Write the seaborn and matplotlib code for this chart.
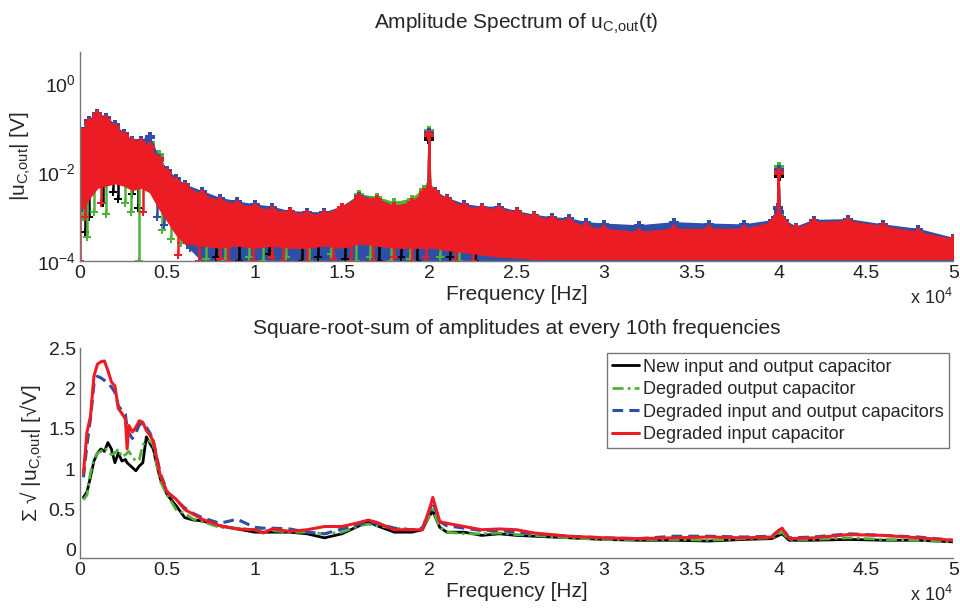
import numpy as np
import pandas as pd
import matplotlib
matplotlib.use("Agg")
import matplotlib.pyplot as plt
import seaborn as sns

# ---- data (frequency in units of 1e4 Hz) ----
labels = ["New input and output capacitor",
          "Degraded output capacitor",
          "Degraded input and output capacitors",
          "Degraded input capacitor"]
colors = ["#000000", "#4fb33a", "#2f4fa6", "#ec1c24"]

# top panel: log10 of upper / lower envelope of the amplitude spectrum
spec_f = [0, 0.02, 0.05, 0.1, 0.15, 0.2, 0.25, 0.3, 0.35, 0.4,
          0.45, 0.5, 0.55, 0.6, 0.7, 0.8, 0.9, 1.0, 1.1, 1.2,
          1.3, 1.4, 1.5, 1.6, 1.7, 1.8, 1.9, 1.97, 1.995, 2.0,
          2.005, 2.03, 2.1, 2.2, 2.3, 2.4, 2.5, 2.6, 2.7, 2.8,
          2.9, 3.0, 3.2, 3.4, 3.6, 3.8, 3.97, 3.995, 4.0, 4.005,
          4.03, 4.1, 4.2, 4.4, 4.6, 4.8, 5.0]

upper_black = [-1.6, -1.35, -1.1, -0.9, -1.0, -1.15, -1.35, -1.5, -1.5, -1.5,
               -1.85, -2.15, -2.35, -2.5, -2.65, -2.8, -2.88, -2.95, -3.0, -3.05,
               -3.1, -3.1, -2.95, -2.72, -2.75, -2.9, -2.85, -2.6, -2.55, -1.25,
               -2.55, -2.6, -2.75, -2.9, -2.95, -3.0, -3.05, -3.15, -3.2, -3.25,
               -3.35, -3.4, -3.45, -3.4, -3.4, -3.4, -3.3, -3.15, -2.1, -3.15,
               -3.3, -3.4, -3.3, -3.25, -3.35, -3.45, -3.6]
upper_green = [-1.5, -1.2, -0.95, -0.78, -0.88, -1.05, -1.25, -1.38, -1.4, -1.35,
               -1.62, -2.05, -2.2, -2.36, -2.55, -2.7, -2.78, -2.85, -2.92, -2.95,
               -3.0, -3.0, -2.85, -2.52, -2.58, -2.7, -2.62, -2.4, -2.35, -1.08,
               -2.45, -2.5, -2.68, -2.82, -2.88, -2.9, -2.97, -3.06, -3.12, -3.15,
               -3.28, -3.3, -3.4, -3.28, -3.35, -3.35, -3.2, -3.05, -1.88, -2.95,
               -3.1, -3.25, -3.2, -3.18, -3.3, -3.42, -3.58]
upper_blue = [-1.35, -1.1, -0.85, -0.7, -0.78, -0.95, -1.15, -1.3, -1.3, -1.22,
              -1.7, -1.98, -2.15, -2.3, -2.45, -2.6, -2.68, -2.75, -2.8, -2.9,
              -2.92, -2.93, -2.8, -2.55, -2.62, -2.78, -2.72, -2.48, -2.4, -1.12,
              -2.4, -2.45, -2.6, -2.74, -2.8, -2.8, -2.9, -2.98, -3.04, -3.06,
              -3.15, -3.18, -3.22, -3.15, -3.18, -3.2, -3.1, -2.8, -1.95, -2.9,
              -3.1, -3.25, -3.1, -3.08, -3.2, -3.3, -3.5]
upper_red = [-1.3, -1.12, -0.9, -0.72, -0.83, -1.0, -1.2, -1.33, -1.35, -1.44,
             -1.73, -2.02, -2.22, -2.34, -2.52, -2.67, -2.74, -2.81, -2.88, -2.92,
             -2.97, -2.97, -2.81, -2.58, -2.63, -2.79, -2.7, -2.47, -2.4, -1.17,
             -2.4, -2.47, -2.63, -2.79, -2.84, -2.85, -2.92, -3.02, -3.08, -3.12,
             -3.24, -3.3, -3.37, -3.3, -3.3, -3.3, -3.15, -3.0, -2.02, -3.0,
             -3.15, -3.28, -3.15, -3.12, -3.24, -3.37, -3.53]

lower_red = [-2.8, -2.8, -2.6, -2.35, -2.3, -2.25, -2.3, -2.4, -2.35, -2.45,
             -2.8, -3.1, -3.4, -3.6, -3.65, -3.7, -3.65, -3.7, -3.65, -3.7,
             -3.7, -3.65, -3.7, -3.6, -3.65, -3.7, -3.7, -3.7, -3.7, -3.7,
             -3.7, -3.7, -3.75, -3.8, -3.85, -3.9, -3.92, -3.95, -3.95, -3.95,
             -3.95, -3.95, -3.95, -3.95, -3.95, -3.95, -3.95, -3.95, -3.95, -3.95,
             -3.95, -3.95, -3.95, -3.95, -3.95, -3.95, -3.95]
lower_blue = [-2.75, -2.75, -2.55, -2.3, -2.25, -2.2, -2.25, -2.35, -2.3, -2.4,
              -2.75, -3.05, -3.35, -3.6, -4.0, -4.0, -4.0, -4.0, -4.0, -4.0,
              -4.0, -4.0, -4.0, -4.0, -4.0, -4.0, -4.0, -4.0, -4.0, -4.0,
              -4.0, -4.0, -4.0, -4.0, -4.0, -4.0, -4.0, -4.0, -4.0, -4.0,
              -4.0, -4.0, -4.0, -4.0, -4.0, -4.0, -4.0, -4.0, -4.0, -4.0,
              -4.0, -4.0, -4.0, -4.0, -4.0, -4.0, -4.0]
# lower edge of black and green spectra lies under the red one
lower_other = [-2.75, -2.75, -2.55, -2.3, -2.25, -2.2, -2.25, -2.35, -2.3, -2.4,
               -2.75, -3.05, -3.35, -3.55, -3.6, -3.65, -3.6, -3.65, -3.6, -3.65,
               -3.65, -3.6, -3.65, -3.55, -3.6, -3.65, -3.65, -3.65, -3.65, -3.65,
               -3.65, -3.65, -3.7, -3.75, -3.8, -3.85, -3.87, -3.9, -3.9, -3.9,
               -3.9, -3.9, -3.9, -3.9, -3.9, -3.9, -3.9, -3.9, -3.9, -3.9,
               -3.9, -3.9, -3.9, -3.9, -3.9, -3.9, -3.9]

# single deep dips of the spectrum (frequency, log10 amplitude)
dip_f_black = [0.03, 0.05, 0.13, 0.19, 0.22, 0.3, 0.33, 0.62, 0.64, 0.78,
               0.91, 1.08, 1.27, 1.36, 1.52, 1.71, 1.84, 1.93, 1.99, 2.12, 2.26]
dip_v_black = [-3.35, -3.0, -2.7, -2.45, -2.6, -2.5, -2.8, -3.3, -3.5, -3.9,
               -4.0, -3.85, -4.0, -3.9, -3.95, -4.0, -3.9, -4.0, -3.5, -3.9, -4.0]
dip_f_green = [0.02, 0.04, 0.08, 0.15, 0.26, 0.29, 0.34, 0.47, 0.52, 0.58,
               0.72, 0.83, 0.97, 1.05, 1.18, 1.31, 1.44, 1.58, 1.66, 1.78,
               1.89, 2.06, 2.17]
dip_v_green = [-3.0, -3.45, -2.9, -2.95, -2.7, -2.9, -4.0, -3.3, -3.5, -3.6,
               -3.95, -4.0, -3.9, -4.0, -3.9, -4.0, -3.85, -4.0, -3.9, -4.0,
               -3.95, -3.9, -4.0]
dip_f_blue = [0.01, 0.44, 0.48, 0.61, 0.63]
dip_v_blue = [-2.8, -3.0, -3.2, -3.6, -3.7]
dip_f_red = [0.0, 0.03, 0.12, 0.36, 0.56, 0.68, 0.8, 0.85, 0.99, 1.1,
             1.16, 1.3, 1.45, 1.55, 1.68, 1.8, 1.9, 1.98, 2.15, 2.25]
dip_v_red = [-4.0, -3.0, -2.7, -2.9, -3.87, -4.0, -3.95, -4.0, -4.0, -3.9,
             -4.0, -4.0, -3.95, -4.0, -4.0, -3.9, -4.0, -3.9, -4.0, -4.0]

# bottom panel: square-root-sum of amplitudes
sum_f = [0.02, 0.04, 0.06, 0.08, 0.1, 0.12, 0.14, 0.16, 0.18, 0.2,
         0.22, 0.24, 0.26, 0.27, 0.28, 0.3, 0.32, 0.34, 0.36, 0.38,
         0.4, 0.42, 0.44, 0.46, 0.5, 0.55, 0.6, 0.65, 0.7, 0.8,
         0.9, 1.0, 1.05, 1.1, 1.2, 1.3, 1.4, 1.5, 1.6, 1.65,
         1.7, 1.8, 1.9, 1.96, 2.0, 2.02, 2.06, 2.1, 2.2, 2.3,
         2.4, 2.5, 2.6, 2.8, 3.0, 3.2, 3.4, 3.6, 3.8, 3.96,
         4.0, 4.02, 4.06, 4.2, 4.4, 4.6, 4.8, 5.0]
sum_black = [0.65, 0.72, 0.90, 1.10, 1.20, 1.25, 1.22, 1.33, 1.25, 1.08,
             1.20, 1.10, 1.12, 1.08, 1.06, 1.02, 0.98, 1.04, 1.08, 1.40,
             1.32, 1.25, 1.05, 0.88, 0.68, 0.55, 0.40, 0.37, 0.36, 0.30,
             0.26, 0.22, 0.22, 0.22, 0.22, 0.20, 0.15, 0.20, 0.30, 0.35,
             0.30, 0.22, 0.22, 0.25, 0.42, 0.48, 0.28, 0.22, 0.22, 0.18,
             0.20, 0.18, 0.17, 0.15, 0.13, 0.12, 0.12, 0.11, 0.13, 0.14,
             0.18, 0.20, 0.12, 0.12, 0.13, 0.12, 0.12, 0.10]
sum_green = [0.62, 0.68, 0.95, 1.12, 1.20, 1.22, 1.27, 1.22, 1.18, 1.20,
             1.25, 1.15, 1.18, 1.20, 1.22, 1.15, 1.10, 1.12, 1.30, 1.35,
             1.35, 1.30, 1.05, 0.85, 0.68, 0.50, 0.45, 0.38, 0.35, 0.28,
             0.27, 0.25, 0.24, 0.24, 0.22, 0.22, 0.20, 0.22, 0.30, 0.32,
             0.30, 0.27, 0.25, 0.27, 0.42, 0.50, 0.28, 0.22, 0.20, 0.20,
             0.21, 0.19, 0.18, 0.15, 0.13, 0.13, 0.13, 0.12, 0.14, 0.15,
             0.20, 0.22, 0.13, 0.13, 0.15, 0.13, 0.12, 0.10]
sum_blue = [0.90, 1.30, 1.62, 2.05, 2.15, 2.13, 2.10, 2.05, 2.02, 1.95,
            1.78, 1.73, 1.68, 1.50, 1.45, 1.38, 1.45, 1.55, 1.57, 1.52,
            1.45, 1.35, 1.15, 0.95, 0.72, 0.62, 0.52, 0.45, 0.40, 0.33,
            0.38, 0.28, 0.27, 0.27, 0.26, 0.22, 0.20, 0.26, 0.32, 0.34,
            0.33, 0.27, 0.25, 0.27, 0.48, 0.60, 0.35, 0.30, 0.27, 0.24,
            0.24, 0.22, 0.20, 0.17, 0.15, 0.14, 0.17, 0.17, 0.16, 0.17,
            0.24, 0.27, 0.15, 0.16, 0.20, 0.18, 0.16, 0.12]
sum_red = [0.95, 1.46, 1.65, 2.15, 2.30, 2.33, 2.34, 2.22, 2.08, 2.03,
           1.75, 1.69, 1.62, 1.25, 1.54, 1.46, 1.52, 1.60, 1.58, 1.48,
           1.42, 1.35, 1.13, 0.92, 0.71, 0.63, 0.50, 0.44, 0.38, 0.30,
           0.26, 0.25, 0.21, 0.26, 0.23, 0.25, 0.29, 0.29, 0.34, 0.37,
           0.34, 0.25, 0.25, 0.25, 0.50, 0.65, 0.35, 0.33, 0.29, 0.25,
           0.26, 0.25, 0.21, 0.17, 0.15, 0.14, 0.15, 0.16, 0.15, 0.16,
           0.24, 0.27, 0.14, 0.15, 0.19, 0.18, 0.15, 0.12]

# ---- style ----
sns.set_theme(style="white")
plt.rcParams["font.family"] = ["Liberation Sans", "DejaVu Sans"]
plt.rcParams["mathtext.fontset"] = "custom"
plt.rcParams["mathtext.rm"] = "Liberation Sans"
plt.rcParams["mathtext.it"] = "Liberation Sans:italic"
plt.rcParams["mathtext.default"] = "regular"

fig = plt.figure(figsize=(9.6, 6.08), dpi=100)
ax1 = fig.add_axes([0.0833, 0.5707, 0.9097, 0.3438])
ax2 = fig.add_axes([0.0833, 0.0822, 0.9097, 0.3454])

# ---- top: amplitude spectrum ----
ax1.set_yscale("log")
uppers = [upper_black, upper_green, upper_blue, upper_red]
lowers = [lower_other, lower_other, lower_blue, lower_red]
dips_f = [dip_f_black, dip_f_green, dip_f_blue, dip_f_red]
dips_v = [dip_v_black, dip_v_green, dip_v_blue, dip_v_red]
for i in range(4):
    z = 2 + i * 0.1
    up = 10.0 ** np.array(uppers[i])
    lo = 10.0 ** np.array(lowers[i])
    ax1.fill_between(spec_f, lo, up, color=colors[i], lw=1.0, zorder=z)
    sns.lineplot(x=spec_f, y=up, ax=ax1, color=colors[i], lw=1.5,
                 marker="P", markersize=7, markeredgewidth=0, zorder=z)
    # dips sit above the blue strip but under the red spectrum
    zd = z if i == 3 else 2.25
    top = 10.0 ** np.interp(dips_f[i], spec_f, uppers[i])
    ax1.vlines(dips_f[i], 10.0 ** np.array(dips_v[i]), top,
               color=colors[i], lw=1.8, zorder=zd)
    ax1.plot(dips_f[i], 10.0 ** np.array(dips_v[i]), "P", color=colors[i],
             markersize=6, markeredgewidth=0, zorder=zd)

ax1.set_xlim(0, 5)
ax1.set_ylim(1e-4, 5)
ax1.set_yticks([1e-4, 1e-2, 1e0])
ax1.minorticks_off()
ax1.set_title(r"Amplitude Spectrum of u$_{C{,}out}$(t)", fontsize=15, pad=17)
ax1.set_ylabel(r"|u$_{C{,}out}$| [V]", fontsize=15, labelpad=3)
ax1.text(1.0, -0.13, r"x 10$^{4}$", transform=ax1.transAxes,
         ha="right", va="top", fontsize=13)

# ---- bottom: square-root sums ----
sums = [sum_black, sum_green, sum_blue, sum_red]
styles = ["-", (0, (4, 1.5, 1, 1.5)), (0, (3.5, 2)), "-"]
widths = [2.0, 2.0, 2.2, 2.2]
for i in range(4):
    sns.lineplot(x=sum_f, y=sums[i], ax=ax2, color=colors[i], lw=widths[i],
                 linestyle=styles[i], label=labels[i])

ax2.set_xlim(0, 5)
ax2.set_ylim(-0.1, 2.5)
ax2.set_yticks([0, 0.5, 1, 1.5, 2, 2.5])
ax2.set_yticklabels(["0", "0.5", "1", "1.5", "2", "2.5"])
ax2.set_title("Square-root-sum of amplitudes at every 10th frequencies",
              fontsize=15, pad=10)
ax2.set_ylabel(r"Σ √ |u$_{C{,}out}$| [√V]", fontsize=15, labelpad=3)
ax2.text(1.0, -0.13, r"x 10$^{4}$", transform=ax2.transAxes,
         ha="right", va="top", fontsize=13)
leg = ax2.legend(loc="upper right", bbox_to_anchor=(0.995, 0.975),
                 borderaxespad=0, fancybox=False, framealpha=1,
                 edgecolor="#777777", fontsize=13, handlelength=1.5,
                 handletextpad=0.2, labelspacing=0.3, borderpad=0.3)
leg.get_frame().set_linewidth(1.0)

xt = [0, 0.5, 1, 1.5, 2, 2.5, 3, 3.5, 4, 4.5, 5]
xtl = ["0", "0.5", "1", "1.5", "2", "2.5", "3", "3.5", "4", "4.5", "5"]
for ax in (ax1, ax2):
    ax.set_xticks(xt)
    ax.set_xticklabels(xtl)
    ax.set_xlabel("Frequency [Hz]", fontsize=15, labelpad=2)
    ax.tick_params(direction="in", length=5, width=0.9, color="#777777",
                   labelsize=14, labelcolor="#222222", pad=3)
    for s in ("top", "right"):
        ax.spines[s].set_visible(False)
    for s in ("left", "bottom"):
        ax.spines[s].set_color("#777777")
        ax.spines[s].set_linewidth(1.0)
    ax.grid(False)

fig.savefig("out.png", dpi=100)
